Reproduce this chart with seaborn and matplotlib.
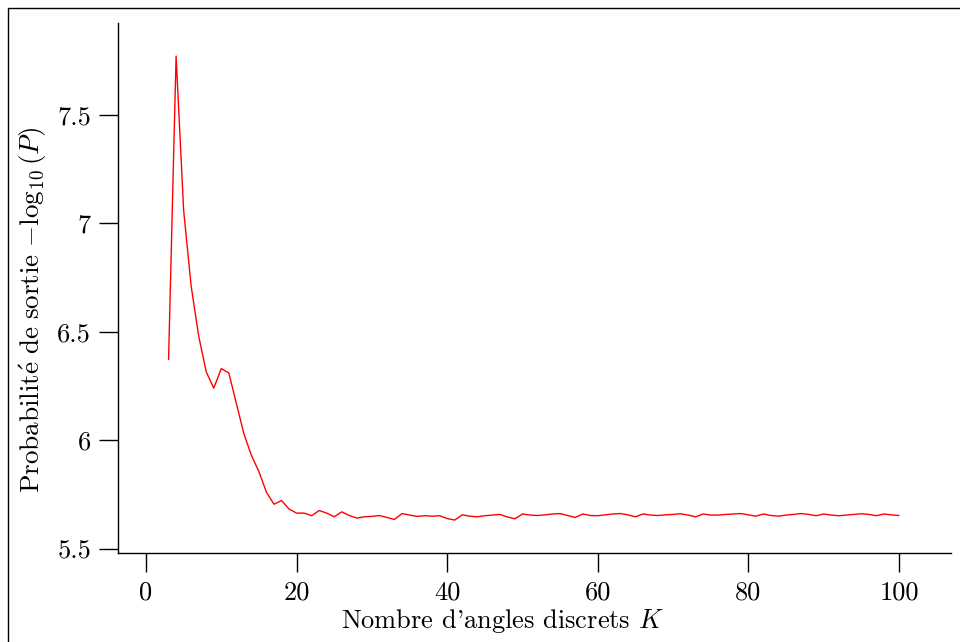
import numpy as np
import matplotlib
matplotlib.use('Agg')
import matplotlib.pyplot as plt
from matplotlib.patches import Rectangle
import seaborn as sns

# nombre d'angles discrets K et probabilite de sortie -log10(P)
k_values = list(range(3, 101))
log_p = [6.372, 7.770, 7.06, 6.71, 6.48, 6.315, 6.24, 6.33, 6.31, 6.17,
         6.03, 5.93, 5.855, 5.76, 5.705, 5.722, 5.683, 5.664, 5.664, 5.652,
         5.676, 5.664, 5.647, 5.670, 5.653, 5.641, 5.647, 5.649, 5.653, 5.644,
         5.635, 5.662, 5.655, 5.649, 5.652, 5.650, 5.652, 5.639, 5.632, 5.656,
         5.650, 5.647, 5.652, 5.655, 5.658, 5.646, 5.638, 5.660, 5.655, 5.653,
         5.656, 5.660, 5.662, 5.653, 5.644, 5.660, 5.653, 5.652, 5.656, 5.660,
         5.662, 5.656, 5.647, 5.660, 5.655, 5.653, 5.656, 5.658, 5.661, 5.655,
         5.647, 5.660, 5.655, 5.655, 5.658, 5.660, 5.662, 5.656, 5.650, 5.660,
         5.653, 5.650, 5.655, 5.658, 5.662, 5.658, 5.652, 5.660, 5.655, 5.652,
         5.655, 5.658, 5.661, 5.658, 5.652, 5.660, 5.656, 5.653]

x_ticks = [0, 20, 40, 60, 80, 100]
y_ticks = [5.5, 6, 6.5, 7, 7.5]
y_tick_labels = ['5.5', '6', '6.5', '7', '7.5']

sns.set_theme(style='ticks')
plt.rcParams['font.family'] = ['cmr10', 'DejaVu Serif']
plt.rcParams['mathtext.fontset'] = 'cm'
plt.rcParams['axes.formatter.use_mathtext'] = True

fig = plt.figure(figsize=(9.6, 6.42), dpi=100)
ax = fig.add_axes([0.1232, 0.1391, 0.8671, 0.8255])

sns.lineplot(x=k_values, y=log_p, color='red', lw=1.0, ax=ax)

ax.set_xlim(-3.68, 106.87)
ax.set_ylim(5.4816, 7.924)
ax.set_xticks(x_ticks)
ax.set_xticklabels([str(t) for t in x_ticks])
ax.set_yticks(y_ticks)
ax.set_yticklabels(y_tick_labels)
ax.tick_params(axis='both', direction='out', length=13.5, width=1.0,
               color='black', labelsize=19, labelcolor='black', pad=6)
ax.tick_params(axis='x', pad=7)

for side in ['top', 'right']:
    ax.spines[side].set_visible(False)
for side in ['left', 'bottom']:
    ax.spines[side].set_color('black')
    ax.spines[side].set_linewidth(1.0)

ax.set_xlabel("Nombre d'angles discrets $K$", fontsize=19, color='black', labelpad=0)
ax.xaxis.set_label_coords(0.461, -0.103)
ax.set_ylabel(r"$\mathrm{Probabilit\acute{e}\ de\ sortie}\ {-}\log_{10}(P)$",
              fontsize=19.5, color='black', labelpad=8)
ax.yaxis.set_label_coords(-0.083, 0.458)

# cadre autour de la figure
fig.patches.append(Rectangle((8 / 960, -0.1), 1.2, 634 / 642 + 0.1,
                             transform=fig.transFigure, fill=False,
                             ec='black', lw=1.0))

fig.savefig('out.png', dpi=100)
